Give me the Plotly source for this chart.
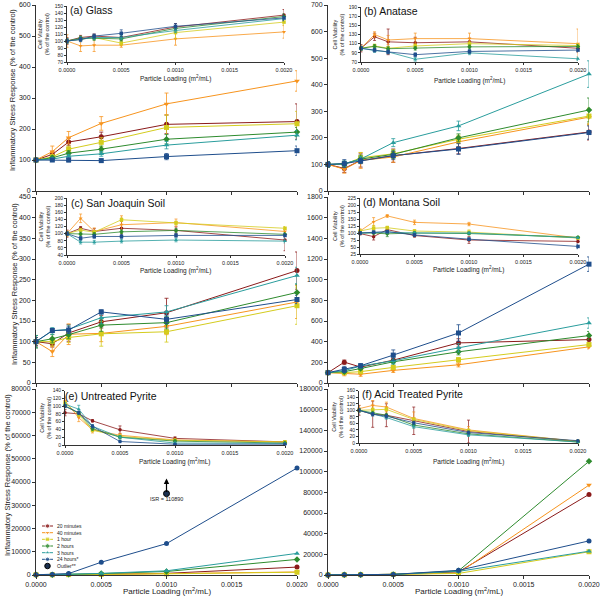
import plotly.graph_objects as go

# ---------------- data ----------------
X = [0.0, 0.000125, 0.00025, 0.0005, 0.001, 0.002]
SERIES = ["20 minutes", "40 minutes", "1 hour", "2 hours", "3 hours", "24 hours*"]
PANEL_TITLES = ["(a) Glass", "(b) Anatase", "(c) San Joaquin Soil",
                "(d) Montana Soil", "(e) Untreated Pyrite", "(f) Acid Treated Pyrite"]
X_TICKS = [0.0, 0.0005, 0.001, 0.0015, 0.002]
X_TICKTEXT = ["0.0000", "0.0005", "0.0010", "0.0015", "0.0020"]

# Inflammatory stress response (rows: 20 min, 40 min, 1 h, 2 h, 3 h, 24 h)
A_ISR = [[100, 118, 158, 175, 215, 224],
         [100, 127, 172, 218, 281, 355],
         [100, 110, 135, 157, 205, 217],
         [100, 107, 122, 135, 167, 190],
         [100, 103, 112, 120, 148, 180],
         [100, 100, 100, 98, 111, 130]]
A_ISR_ERR = [[5, 10, 12, 15, 30, 57], [5, 18, 20, 22, 35, 33], [5, 8, 10, 15, 40, 40],
             [5, 6, 8, 10, 15, 15], [5, 5, 6, 8, 12, 15], [5, 5, 6, 5, 10, 15]]
B_ISR = [[100, 85, 115, 133, 160, 222],
         [100, 82, 115, 128, 185, 278],
         [100, 100, 125, 140, 195, 282],
         [100, 102, 120, 138, 200, 305],
         [100, 103, 120, 182, 245, 440],
         [100, 103, 113, 133, 158, 220]]
B_ISR_ERR = [[10, 15, 25, 25, 20, 30], [10, 15, 30, 20, 20, 30], [10, 10, 20, 15, 15, 30],
             [10, 10, 15, 15, 15, 45], [10, 10, 10, 15, 18, 50], [10, 15, 10, 15, 20, 25]]
C_ISR = [[100, 95, 121, 148, 170, 272],
         [100, 76, 118, 120, 137, 196],
         [100, 100, 110, 119, 124, 187],
         [100, 107, 117, 140, 146, 219],
         [100, 126, 130, 158, 172, 260],
         [100, 127, 128, 172, 154, 202]]
C_ISR_ERR = [[10, 8, 20, 15, 35, 45], [10, 12, 25, 20, 20, 40], [15, 10, 12, 30, 25, 45],
             [15, 10, 10, 15, 15, 20], [15, 8, 10, 15, 15, 20], [10, 5, 8, 5, 10, 10]]
D_ISR = [[100, 202, 154, 221, 388, 420],
         [100, 90, 85, 122, 176, 350],
         [100, 100, 110, 151, 225, 372],
         [100, 110, 140, 205, 302, 459],
         [100, 120, 164, 215, 340, 580],
         [100, 131, 167, 270, 484, 1150]]
D_ISR_ERR = [[10, 20, 20, 20, 40, 30], [10, 20, 20, 20, 20, 20], [10, 10, 10, 15, 20, 20],
             [10, 10, 10, 20, 30, 40], [10, 15, 20, 30, 40, 50], [10, 30, 20, 50, 80, 70]]
E_ISR = [[100, 120, 200, 300, 700, 3400],
         [100, 110, 150, 250, 600, 1300],
         [100, 110, 160, 250, 500, 1200],
         [100, 150, 300, 600, 1500, 6700],
         [100, 150, 300, 700, 1800, 9300],
         [100, 200, 600, 5500, 13500, 46000]]
F_ISR = [[100, 150, 300, 600, 3000, 78000],
         [100, 150, 300, 600, 2000, 87000],
         [100, 150, 300, 600, 1500, 22500],
         [100, 150, 300, 600, 4000, 110000],
         [100, 150, 300, 600, 3500, 23000],
         [100, 150, 300, 600, 4500, 33000]]

# Cell viability insets
A_CV = [[100, 105, 107, 105, 120, 137],
        [100, 93, 94, 94, 103, 113],
        [100, 103, 105, 97, 112, 127],
        [100, 104, 104, 103, 118, 135],
        [100, 103, 105, 105, 115, 132],
        [100, 102, 107, 111, 121, 133]]
A_CV_ERR = [[5, 3, 3, 4, 5, 8], [9, 8, 9, 3, 9, 9], [3, 3, 3, 3, 8, 4],
            [3, 3, 3, 3, 3, 4], [3, 3, 3, 3, 3, 3], [3, 3, 3, 5, 4, 4]]
B_CV = [[100, 125, 114, 112, 114, 100],
        [100, 130, 118, 121, 121, 110],
        [100, 105, 100, 105, 110, 106],
        [100, 104, 99, 100, 103, 104],
        [100, 95, 92, 76, 90, 77],
        [100, 96, 92, 86, 93, 96]]
B_CV_ERR = [[8, 8, 28, 12, 8, 8], [5, 6, 10, 12, 12, 32], [4, 4, 4, 4, 4, 4],
            [4, 4, 4, 4, 4, 4], [4, 4, 4, 4, 4, 4], [4, 4, 4, 4, 4, 4]]
C_CV = [[100, 115, 106, 115, 109, 82],
        [100, 143, 106, 125, 131, 106],
        [100, 110, 104, 139, 130, 115],
        [100, 99, 98, 105, 109, 98],
        [100, 76, 76, 79, 82, 79],
        [100, 87, 92, 92, 95, 95]]
C_CV_ERR = [[10, 5, 8, 20, 10, 30], [8, 12, 10, 25, 10, 12], [5, 5, 5, 5, 5, 5],
            [5, 5, 5, 5, 5, 5], [5, 5, 5, 5, 5, 5], [5, 5, 5, 5, 5, 5]]
D_CV = [[98, 87, 112, 91, 75, 70],
        [107, 140, 161, 138, 132, 82],
        [107, 117, 119, 107, 103, 82],
        [100, 100, 97, 100, 98, 85],
        [100, 102, 103, 100, 100, 83],
        [100, 103, 105, 93, 78, 52]]
D_CV_ERR = [[5, 12, 8, 6, 12, 5], [8, 15, 5, 8, 6, 4], [5, 10, 5, 5, 8, 3],
            [4, 4, 10, 4, 4, 3], [4, 4, 4, 4, 4, 3], [4, 4, 4, 4, 4, 8]]
E_CV = [[83, 80, 62, 39, 17, 8],
        [113, 70, 39, 25, 13, 8],
        [108, 78, 38, 22, 12, 8],
        [100, 82, 42, 20, 10, 5],
        [105, 92, 48, 20, 5, 4],
        [100, 83, 48, 9, 2, 2]]
E_CV_ERR = [[8, 6, 3, 10, 4, 3], [10, 10, 8, 5, 4, 3], [4, 4, 4, 4, 3, 3],
            [4, 4, 4, 4, 3, 3], [4, 10, 4, 4, 3, 3], [4, 4, 4, 3, 2, 2]]
F_CV = [[100, 88, 85, 68, 35, 5],
        [105, 115, 110, 75, 40, 5],
        [100, 102, 103, 72, 38, 5],
        [100, 92, 85, 55, 28, 3],
        [100, 88, 78, 50, 25, 3],
        [100, 88, 82, 62, 32, 7]]
F_CV_ERR = [[15, 40, 35, 42, 35, 3], [10, 15, 15, 20, 10, 3], [5, 5, 5, 5, 5, 3],
            [5, 5, 5, 5, 5, 3], [5, 5, 5, 5, 5, 3], [5, 5, 5, 5, 5, 3]]

OUTLIER_X = [0.001]
OUTLIER_Y = [35000]
OUTLIER_TEXT = "ISR = 110890"
OUTLIER_LABEL = "Outlier**"

ZERO_ERR = [[0] * 6 for _ in range(6)]
ISR = [A_ISR, B_ISR, C_ISR, D_ISR, E_ISR, F_ISR]
ISR_ERR = [A_ISR_ERR, B_ISR_ERR, C_ISR_ERR, D_ISR_ERR, ZERO_ERR, ZERO_ERR]
CV = [A_CV, B_CV, C_CV, D_CV, E_CV, F_CV]
CV_ERR = [A_CV_ERR, B_CV_ERR, C_CV_ERR, D_CV_ERR, E_CV_ERR, F_CV_ERR]

# ---------------- style / layout ----------------
COLORS = ["#8B1A1A", "#F7941E", "#D4CC1E", "#2E8B2E", "#2A9D9D", "#1F4E8C"]
SYMBOLS = ["circle", "triangle-down", "square", "diamond", "triangle-up", "circle"]
FONT = "Liberation Sans, Arial, sans-serif"

W, H = 600, 597
def px(x): return x / W
def py(y): return 1 - y / H

MAIN_COLS = [(36, 297), (328, 589)]
MAIN_ROWS = [(5, 191), (197, 383), (389, 575)]
MAIN_YMAX = [600, 700, 450, 1800, 80000, 180000]
MAIN_DTICK = [100, 100, 50, 200, 10000, 20000]
INSET_BOX = [(67, 284, 6, 62), (361, 578, 7, 62), (67, 285, 198, 255),
             (360, 578, 198, 254), (65, 285, 390.5, 445), (359, 578, 390.7, 443)]
INSET_RANGE = [(70, 150, 10), (70, 190, 20), (40, 200, 20), (25, 225, 25), (0, 140, 20), (0, 160, 20)]
INSET_YTITLE_X = [44, 338, 44, 338, 46, 338]
INSET_XTITLE_Y = [78, 80, 270, 269, 461, 461]
TITLE_POS = [(68, 10), (362, 11), (69, 203), (361, 202), (63, 396), (360, 394)]
YTITLE_POS = [(13, 90), (14, 284), (7, 475)]

fig = go.Figure()
layout = dict(template="none", width=W, height=H, margin=dict(l=0, r=0, t=0, b=0, pad=0),
              paper_bgcolor="white", plot_bgcolor="rgba(0,0,0,0)",
              showlegend=False, font=dict(family=FONT, color="#222"))
annotations = []

def ref(i):
    return "" if i == 1 else str(i)

axis_common = dict(showgrid=False, zeroline=False, showline=True, linecolor="#333",
                   linewidth=1, ticks="outside", tickcolor="#333", automargin=False,
                   fixedrange=True)

for p in range(6):
    r, c = divmod(p, 2)
    m, n = 2 * p + 1, 2 * p + 2
    x0, x1 = MAIN_COLS[c]
    y0, y1 = MAIN_ROWS[r]
    layout["xaxis" + ref(m)] = dict(axis_common, domain=[px(x0), px(x1)], range=[0, 0.002],
                                    anchor="y" + ref(m), tickvals=X_TICKS, ticktext=X_TICKTEXT,
                                    showticklabels=(r == 2), ticklen=3, tickwidth=1,
                                    tickfont=dict(size=7))
    layout["yaxis" + ref(m)] = dict(axis_common, domain=[py(y1), py(y0)], range=[0, MAIN_YMAX[p]],
                                    dtick=MAIN_DTICK[p], tick0=0, anchor="x" + ref(m),
                                    tickformat="d", ticklen=3, tickwidth=1, tickfont=dict(size=7))
    ix0, ix1, iy0, iy1 = INSET_BOX[p]
    lo, hi, dt = INSET_RANGE[p]
    layout["xaxis" + ref(n)] = dict(axis_common, domain=[px(ix0), px(ix1)], range=[0, 0.002],
                                    anchor="y" + ref(n), tickvals=X_TICKS, ticktext=X_TICKTEXT,
                                    ticklen=2, tickwidth=0.8, linewidth=0.8, tickfont=dict(size=5.5))
    layout["yaxis" + ref(n)] = dict(axis_common, domain=[py(iy1), py(iy0)], range=[lo, hi],
                                    dtick=dt, tick0=lo, anchor="x" + ref(n), ticklen=2,
                                    tickformat="d", tickwidth=0.8, linewidth=0.8,
                                    tickfont=dict(size=5))

    for s in range(6):
        sym = SYMBOLS[s]
        if s == 5 and p < 4:
            sym = "square"
        fig.add_trace(go.Scatter(
            x=X, y=ISR[p][s], mode="lines+markers", name=SERIES[s],
            xaxis="x" + ref(m), yaxis="y" + ref(m), cliponaxis=False,
            line=dict(color=COLORS[s], width=1),
            marker=dict(symbol=sym, size=5, color=COLORS[s]),
            error_y=dict(type="data", array=ISR_ERR[p][s], color=COLORS[s], thickness=0.8, width=2,
                         visible=(p < 4))))
        fig.add_trace(go.Scatter(
            x=X, y=CV[p][s], mode="lines+markers", name=SERIES[s],
            xaxis="x" + ref(n), yaxis="y" + ref(n), cliponaxis=False,
            line=dict(color=COLORS[s], width=0.8),
            marker=dict(symbol=sym, size=3.5, color=COLORS[s]),
            error_y=dict(type="data", array=CV_ERR[p][s], color=COLORS[s], thickness=0.7, width=1.5)))

    # panel title
    tx, ty = TITLE_POS[p]
    annotations.append(dict(x=px(tx), y=py(ty), xref="paper", yref="paper", text=PANEL_TITLES[p],
                            showarrow=False, xanchor="left", yanchor="middle",
                            font=dict(size=10.5, color="#111")))
    # inset titles
    annotations.append(dict(x=px(INSET_YTITLE_X[p]), y=py((iy0 + iy1) / 2), xref="paper", yref="paper",
                            text="Cell Viability<br>(% of the control)", textangle=-90,
                            xanchor="center", yanchor="middle",
                            showarrow=False, font=dict(size=5.5)))
    annotations.append(dict(x=px((ix0 + ix1) / 2), y=py(INSET_XTITLE_Y[p]), xref="paper", yref="paper",
                            text="Particle Loading (m<sup>2</sup>/mL)", showarrow=False,
                            xanchor="center", yanchor="middle", font=dict(size=6.5)))

# main axis titles
for r in range(3):
    xx, yy = YTITLE_POS[r]
    annotations.append(dict(x=px(xx), y=py(yy), xref="paper", yref="paper",
                            text="Inflammatory Stress Response (% of the control)", textangle=-90,
                            xanchor="center", yanchor="middle",
                            showarrow=False, font=dict(size=7.5)))
for c in range(2):
    x0, x1 = MAIN_COLS[c]
    annotations.append(dict(x=px((x0 + x1) / 2), y=py(591), xref="paper", yref="paper",
                            text="Particle Loading (m<sup>2</sup>/mL)", showarrow=False,
                            xanchor="center", yanchor="middle", font=dict(size=8)))

# outlier in panel (e)
fig.add_trace(go.Scatter(x=OUTLIER_X, y=OUTLIER_Y, mode="markers", xaxis="x9", yaxis="y9",
                         cliponaxis=False,
                         marker=dict(symbol="circle", size=6, color="#1A2F4F",
                                     line=dict(color="#000", width=1))))
annotations.append(dict(x=OUTLIER_X[0], y=41500, ax=OUTLIER_X[0], ay=OUTLIER_Y[0], xref="x9", yref="y9",
                        axref="x9", ayref="y9", text="", showarrow=True, arrowhead=2,
                        arrowsize=0.9, arrowwidth=1.2, arrowcolor="#000", standoff=0,
                        startstandoff=0))
annotations.append(dict(x=OUTLIER_X[0], y=32600, xref="x9", yref="y9", text=OUTLIER_TEXT,
                        showarrow=False, font=dict(size=5.5)))

# manual compact legend (pixel-coordinate overlay axis)
layout["xaxis13"] = dict(domain=[0, 1], range=[0, W], visible=False, anchor="y13", fixedrange=True,
                         automargin=False)
layout["yaxis13"] = dict(domain=[0, 1], range=[H, 0], visible=False, anchor="x13", fixedrange=True,
                         automargin=False)
LEG_Y = [526, 532.7, 539.3, 546, 552.7, 559.3, 566]
for s in range(6):
    fig.add_trace(go.Scatter(x=[42, 47.5, 53], y=[LEG_Y[s]] * 3, mode="lines+markers",
                             xaxis="x13", yaxis="y13", hoverinfo="skip",
                             line=dict(color=COLORS[s], width=1),
                             marker=dict(symbol=SYMBOLS[s], size=[0, 4.5, 0], color=COLORS[s])))
    annotations.append(dict(x=55, y=LEG_Y[s], xref="x13", yref="y13", text=SERIES[s],
                            showarrow=False, xanchor="left", font=dict(size=5)))
fig.add_trace(go.Scatter(x=[47.5], y=[LEG_Y[6]], mode="markers", xaxis="x13", yaxis="y13",
                         hoverinfo="skip",
                         marker=dict(symbol="circle", size=5.5, color="#1A2F4F",
                                     line=dict(color="#000", width=1))))
annotations.append(dict(x=55, y=LEG_Y[6], xref="x13", yref="y13", text=OUTLIER_LABEL,
                        showarrow=False, xanchor="left", font=dict(size=5)))

layout["annotations"] = annotations
fig.update_layout(**layout)
fig.write_html("out.html", config={"displayModeBar": False},
               post_script="document.body.style.margin='0';document.body.style.overflow='hidden';")
